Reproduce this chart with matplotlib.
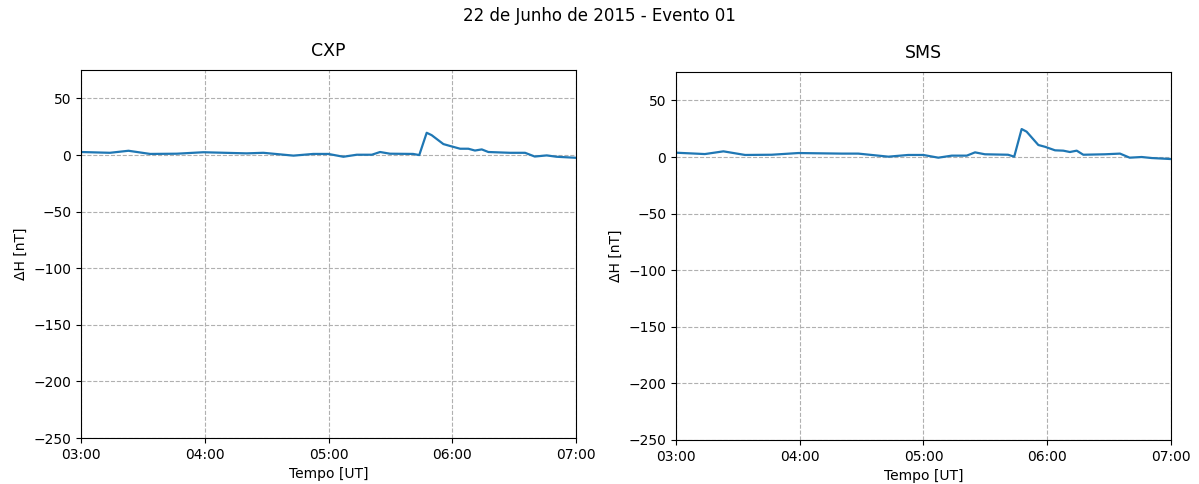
import matplotlib
matplotlib.use('Agg')
import matplotlib.pyplot as plt
import matplotlib.dates as mdates
import numpy as np
import pandas as pd

# minutes after 03:00 UT
t_cxp = [0, 14, 23, 33.5, 46.4, 59.3, 80.3, 88.4, 103, 112.6, 119.9, 127.2, 133.7, 141, 145,
         149.8, 161, 164, 167.6, 170, 175.7, 179, 183.8, 187.8, 191, 194.3, 197.5, 208, 215.3,
         220, 225.8, 230.6, 240]
dh_cxp = [2.7, 2.0, 3.8, 1.0, 1.2, 2.5, 1.5, 2.0, -0.5, 1.0, 1.0, -1.5, 0.3, 0.3, 2.7,
          1.2, 1.0, 0.0, 19.7, 17.6, 9.7, 8.0, 5.6, 5.6, 4.0, 5.0, 2.7, 2.0, 2.0,
          -1.3, -0.3, -1.5, -2.4]

t_sms = t_cxp
dh_sms = [3.8, 2.6, 5.0, 1.8, 2.0, 3.5, 3.0, 3.0, 0.3, 1.8, 1.8, -0.6, 1.2, 1.2, 4.1,
          2.4, 2.0, 0.3, 24.7, 22.4, 10.6, 9.0, 5.9, 5.6, 4.4, 5.6, 2.0, 2.4, 3.0,
          -0.6, 0.0, -0.9, -1.8]

start = pd.Timestamp('2015-06-22 03:00')
end = pd.Timestamp('2015-06-22 07:00')

fig = plt.figure(figsize=(11.99, 4.84), dpi=100)
ax1 = fig.add_axes([0.0676, 0.095, 0.4128, 0.760])
ax2 = fig.add_axes([0.5638, 0.091, 0.4128, 0.760])

for ax, t, dh, name in [(ax1, t_cxp, dh_cxp, 'CXP'), (ax2, t_sms, dh_sms, 'SMS')]:
    x = start + pd.to_timedelta(t, unit='min')
    ax.plot(x, dh, color='tab:blue', lw=1.6)
    ax.set_xlim(start, end)
    ax.set_ylim(-250, 75)
    ax.set_yticks(np.arange(-250, 51, 50))
    ax.xaxis.set_major_locator(mdates.HourLocator())
    ax.xaxis.set_major_formatter(mdates.DateFormatter('%H:%M'))
    ax.grid(True, linestyle='--', color='#b0b0b0', lw=0.8)
    ax.set_title(name, fontsize=12.5, pad=10)
    ax.set_xlabel('Tempo [UT]')
    ax.set_ylabel('ΔH [nT]')

fig.suptitle('22 de Junho de 2015 - Evento 01', fontsize=12, y=0.985)
fig.savefig('out.png', dpi=100)
